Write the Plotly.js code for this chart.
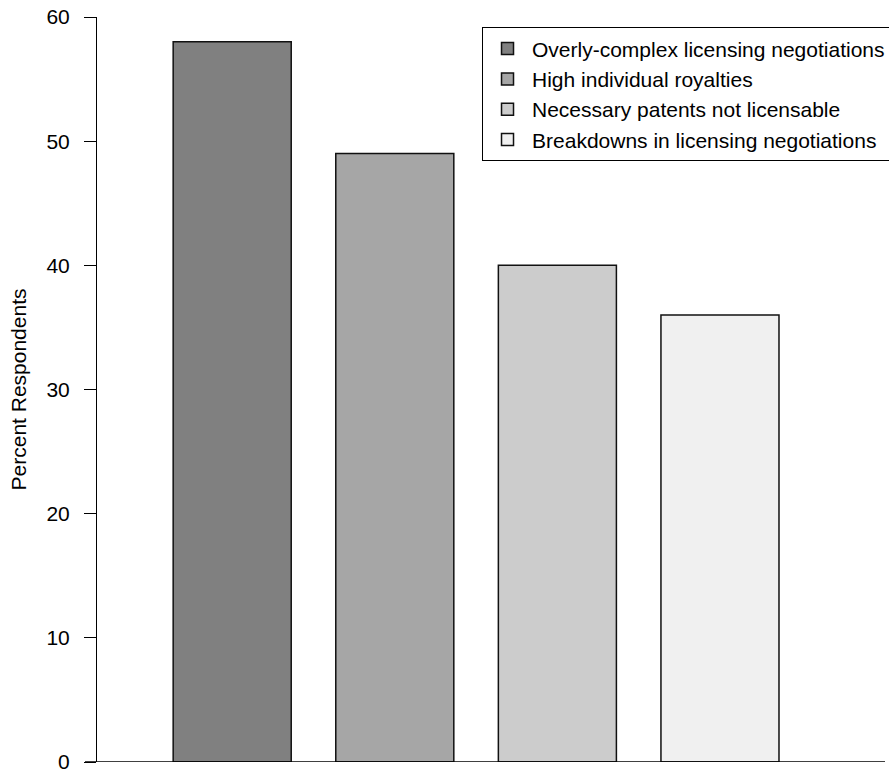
<!DOCTYPE html>
<html>
<head>
<meta charset="utf-8">
<script src="https://cdn.plot.ly/plotly-3.0.1.min.js"></script>
<style>html,body{margin:0;padding:0;background:#fff;}#chart{width:889px;height:770px;}</style>
</head>
<body>
<div id="chart"></div>
<script>
const categories = [
  "Overly-complex licensing negotiations",
  "High individual royalties",
  "Necessary patents not licensable",
  "Breakdowns in licensing negotiations"
];
const values = [58, 49, 40, 36];
const barColors = ["#808080", "#a6a6a6", "#cccccc", "#f0f0f0"];
const yTicks = [0, 10, 20, 30, 40, 50, 60];
const yTitle = "Percent Respondents";

const FONT = "Liberation Sans, Arial, sans-serif";

const traces = categories.map((name, i) => ({
  type: "bar",
  x: [i],
  y: [values[i]],
  name: name,
  width: 0.726,
  marker: { color: barColors[i], line: { color: "#111", width: 1.5 } },
  hoverinfo: "name+y"
}));

const layout = {
  width: 889,
  height: 770,
  margin: { l: 97, r: 4, t: 17, b: 8, pad: 0, autoexpand: false },
  paper_bgcolor: "#fff",
  plot_bgcolor: "#fff",
  barmode: "overlay",
  font: { family: FONT, size: 21, color: "#000" },
  xaxis: {
    range: [-0.8315, 4.015],
    showticklabels: false,
    ticks: "",
    showgrid: false,
    zeroline: false,
    showline: false,
    fixedrange: true
  },
  yaxis: {
    range: [0, 60],
    tickvals: yTicks,
    ticktext: yTicks.map(String),
    ticks: "outside",
    ticklen: 12,
    tickwidth: 1,
    tickcolor: "#000",
    ticklabelstandoff: 10,
    ticklabeloverflow: "allow",
    showline: true,
    linecolor: "#000",
    linewidth: 1,
    showgrid: false,
    zeroline: false,
    automargin: false,
    tickfont: { family: FONT, size: 21, color: "#000" },
    title: { text: yTitle, font: { family: FONT, size: 21, color: "#000" }, standoff: 14 }
  },
  shapes: [{
    type: "line", xref: "paper", yref: "y",
    x0: -0.01523, x1: 1, y0: 0, y1: 0,
    line: { color: "#000", width: 1.5 }, layer: "above"
  }],
  legend: {
    x: 0.4886, y: 0.986, xanchor: "left", yanchor: "top",
    bgcolor: "#fff", bordercolor: "#000", borderwidth: 1,
    itemwidth: 39,
    font: { family: FONT, size: 21, color: "#000" },
    traceorder: "normal"
  },
  showlegend: true
};

Plotly.newPlot("chart", traces, layout, { displayModeBar: false, staticPlot: true });
</script>
</body>
</html>
